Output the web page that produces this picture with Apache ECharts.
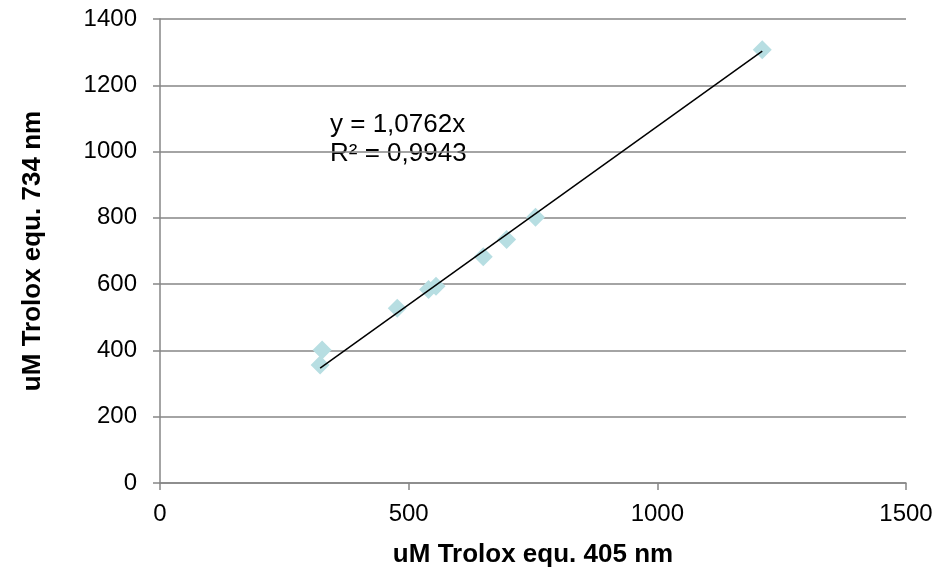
<!DOCTYPE html>
<html>
<head>
<meta charset="utf-8">
<script src="https://cdn.jsdelivr.net/npm/echarts@6/dist/echarts.min.js"></script>
<style>
  html, body { margin: 0; padding: 0; background: #fff; }
  #chart { width: 936px; height: 567px; }
</style>
</head>
<body>
<div id="chart"></div>
<script>
// leituras 405 nm x 734 nm (uM Trolox equ.)
var xVals = [322, 326, 477, 540, 555, 650, 697, 755, 1211];
var yVals = [356, 401, 527, 584, 594, 683, 735, 802, 1307];
var slope = 1.0762;
var eqText = ['y = 1,0762x', 'R² = 0,9943'];

var points = xVals.map(function (x, i) { return [x, yVals[i]]; });
var xMin = Math.min.apply(null, xVals), xMax = Math.max.apply(null, xVals);
var trend = [[xMin, slope * xMin], [xMax, slope * xMax]];

var font = 'Liberation Sans, Arial, sans-serif';
var gray = '#868686';
function plain(v) { return String(v); }

var chart = echarts.init(document.getElementById('chart'), null, { renderer: 'canvas' });
chart.setOption({
  animation: false,
  grid: { left: 160, right: 30, top: 19, bottom: 84, outerBoundsMode: 'none' },
  xAxis: {
    type: 'value', min: 0, max: 1500, interval: 500,
    name: 'uM Trolox equ. 405 nm', nameLocation: 'middle', nameGap: 59,
    nameTextStyle: { fontFamily: font, fontSize: 26, fontWeight: 'bold', color: '#000' },
    axisLine: { lineStyle: { color: gray, width: 1.5 } },
    axisTick: { show: true, length: 7, lineStyle: { color: gray, width: 1.5 } },
    axisLabel: { fontFamily: font, fontSize: 24, color: '#000', margin: 19, formatter: plain },
    splitLine: { show: false }
  },
  yAxis: {
    type: 'value', min: 0, max: 1400, interval: 200,
    name: 'uM Trolox equ. 734 nm', nameLocation: 'middle', nameGap: 114,
    nameTextStyle: { fontFamily: font, fontSize: 26, fontWeight: 'bold', color: '#000' },
    axisLine: { show: true, lineStyle: { color: gray, width: 1.5 } },
    axisTick: { show: true, length: 7, lineStyle: { color: gray, width: 1.5 } },
    axisLabel: { fontFamily: font, fontSize: 24, color: '#000', margin: 23, formatter: plain },
    splitLine: { show: true, lineStyle: { color: gray, width: 1.5 } }
  },
  series: [
    {
      type: 'scatter', symbol: 'diamond', symbolSize: 19,
      itemStyle: { color: '#B7DEE2', opacity: 1 },
      data: points, z: 2
    },
    {
      type: 'line', data: trend, showSymbol: false, symbol: 'none',
      lineStyle: { color: '#000', width: 1.5 }, z: 3, silent: true
    }
  ],
  graphic: [
    {
      type: 'text', left: 330, top: 110,
      style: { text: eqText.join('\n'), font: '26px ' + font, fill: '#000', lineHeight: 29 }
    }
  ]
});
</script>
</body>
</html>
